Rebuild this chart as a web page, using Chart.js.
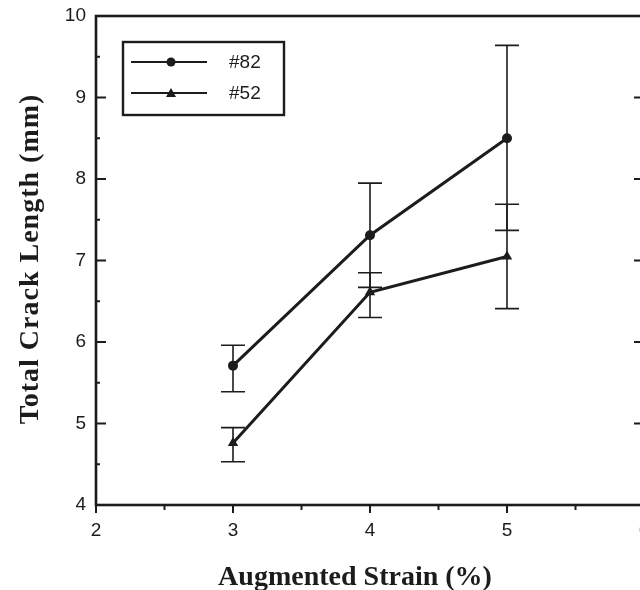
<!DOCTYPE html>
<html>
<head>
<meta charset="utf-8">
<script src="https://cdn.jsdelivr.net/npm/chart.js@4/dist/chart.umd.min.js"></script>
<style>
  html, body { margin: 0; padding: 0; background: #fff; overflow: hidden; }
  #wrap { width: 660px; height: 590px; position: relative; }
</style>
</head>
<body>
<div id="wrap"><canvas id="c"></canvas></div>
<script>
// strain (%) on the x axis
const strain = [3, 4, 5];

// total crack length (mm), mean and error bar ends
const crack82 = [5.71, 7.31, 8.50];
const crack82Hi = [5.96, 7.95, 9.64];
const crack82Lo = [5.39, 6.67, 7.37];

const crack52 = [4.76, 6.61, 7.05];
const crack52Hi = [4.95, 6.85, 7.69];
const crack52Lo = [4.53, 6.30, 6.41];

const seriesNames = ['#82', '#52'];
const xTitle = 'Augmented Strain (%)';
const yTitle = 'Total Crack Length (mm)';

const ink = '#1c1c1c';

function pts(ys) {
    return strain.map((x, i) => ({ x: x, y: ys[i] }));
}

// error bars, frame, minor ticks, legend box and axis titles
const framePlugin = {
    id: 'frame',
    beforeDatasetsDraw(chart) {
        const ctx = chart.ctx;
        const xs = chart.scales.x, ys = chart.scales.y;
        const bars = [[crack82Hi, crack82Lo], [crack52Hi, crack52Lo]];
        ctx.save();
        ctx.strokeStyle = ink;
        ctx.lineWidth = 1.6;
        bars.forEach(([hi, lo]) => {
            strain.forEach((s, i) => {
                const px = xs.getPixelForValue(s);
                const top = ys.getPixelForValue(hi[i]);
                const bot = ys.getPixelForValue(lo[i]);
                ctx.beginPath();
                ctx.moveTo(px, top); ctx.lineTo(px, bot);
                ctx.moveTo(px - 12, top); ctx.lineTo(px + 12, top);
                ctx.moveTo(px - 12, bot); ctx.lineTo(px + 12, bot);
                ctx.stroke();
            });
        });
        ctx.restore();
    },
    afterDraw(chart) {
        const ctx = chart.ctx;
        const a = chart.chartArea;
        const xs = chart.scales.x, ys = chart.scales.y;
        ctx.save();
        ctx.strokeStyle = ink;
        ctx.lineWidth = 2.6;
        ctx.strokeRect(a.left, a.top, a.right - a.left, a.bottom - a.top);

        ctx.lineWidth = 2;
        ctx.beginPath();
        for (let v = 2; v <= 6; v += 0.5) {
            const px = xs.getPixelForValue(v);
            const len = Number.isInteger(v) ? 8 : 5;
            ctx.moveTo(px, a.bottom); ctx.lineTo(px, a.bottom + len);
        }
        for (let v = 4; v <= 10; v += 0.5) {
            const py = ys.getPixelForValue(v);
            const len = Number.isInteger(v) ? 10 : 4;
            ctx.moveTo(a.left, py); ctx.lineTo(a.left + len, py);
            ctx.moveTo(a.right, py); ctx.lineTo(a.right - len, py);
        }
        ctx.stroke();

        // legend
        ctx.lineWidth = 2.4;
        ctx.strokeRect(123, 42, 161, 73);
        ctx.lineWidth = 2;
        ctx.fillStyle = ink;
        [62, 93].forEach((ly, k) => {
            ctx.beginPath();
            ctx.moveTo(131, ly); ctx.lineTo(207, ly);
            ctx.stroke();
            ctx.beginPath();
            if (k === 0) {
                ctx.arc(171, ly, 4.5, 0, Math.PI * 2);
            } else {
                ctx.moveTo(171, ly - 5); ctx.lineTo(176, ly + 4); ctx.lineTo(166, ly + 4); ctx.closePath();
            }
            ctx.fill();
            ctx.font = '19px "Liberation Sans", Arial, sans-serif';
            ctx.textBaseline = 'middle';
            ctx.textAlign = 'left';
            ctx.fillText(seriesNames[k], 229, ly + 1);
        });

        // axis titles
        ctx.font = 'bold 28px "Liberation Serif", "Times New Roman", serif';
        ctx.textAlign = 'center';
        ctx.textBaseline = 'alphabetic';
        ctx.letterSpacing = '0px';
        ctx.fillText(xTitle, 355, 585);
        ctx.translate(38, 259);
        ctx.rotate(-Math.PI / 2);
        ctx.letterSpacing = '1px';
        ctx.fillText(yTitle, 0, 0);
        ctx.restore();
    }
};

new Chart(document.getElementById('c'), {
    type: 'line',
    data: {
        datasets: [
            {
                label: seriesNames[0],
                data: pts(crack82),
                borderColor: ink,
                backgroundColor: ink,
                borderWidth: 3,
                pointStyle: 'circle',
                pointRadius: 5,
                pointBorderWidth: 0
            },
            {
                label: seriesNames[1],
                data: pts(crack52),
                borderColor: ink,
                backgroundColor: ink,
                borderWidth: 3,
                pointStyle: 'triangle',
                pointRadius: 6,
                pointBorderWidth: 0
            }
        ]
    },
    options: {
        responsive: true,
        maintainAspectRatio: false,
        animation: false,
        events: [],
        layout: { padding: { top: 16, right: 16, bottom: 0, left: 0 } },
        plugins: {
            legend: { display: false },
            tooltip: { enabled: false }
        },
        scales: {
            x: {
                type: 'linear',
                min: 2,
                max: 6,
                afterFit: s => { s.height = 85; s.paddingLeft = 0; s.paddingRight = 0; },
                grid: { display: false, drawTicks: false },
                border: { display: false },
                ticks: {
                    stepSize: 1,
                    padding: 14,
                    color: ink,
                    font: { family: '"Liberation Sans", Arial, sans-serif', size: 19 }
                }
            },
            y: {
                min: 4,
                max: 10,
                afterFit: s => { s.width = 96; s.paddingTop = 0; s.paddingBottom = 0; },
                grid: { display: false, drawTicks: false },
                border: { display: false },
                ticks: {
                    stepSize: 1,
                    padding: 10,
                    color: ink,
                    font: { family: '"Liberation Sans", Arial, sans-serif', size: 19 }
                }
            }
        }
    },
    plugins: [framePlugin]
});
</script>
</body>
</html>
